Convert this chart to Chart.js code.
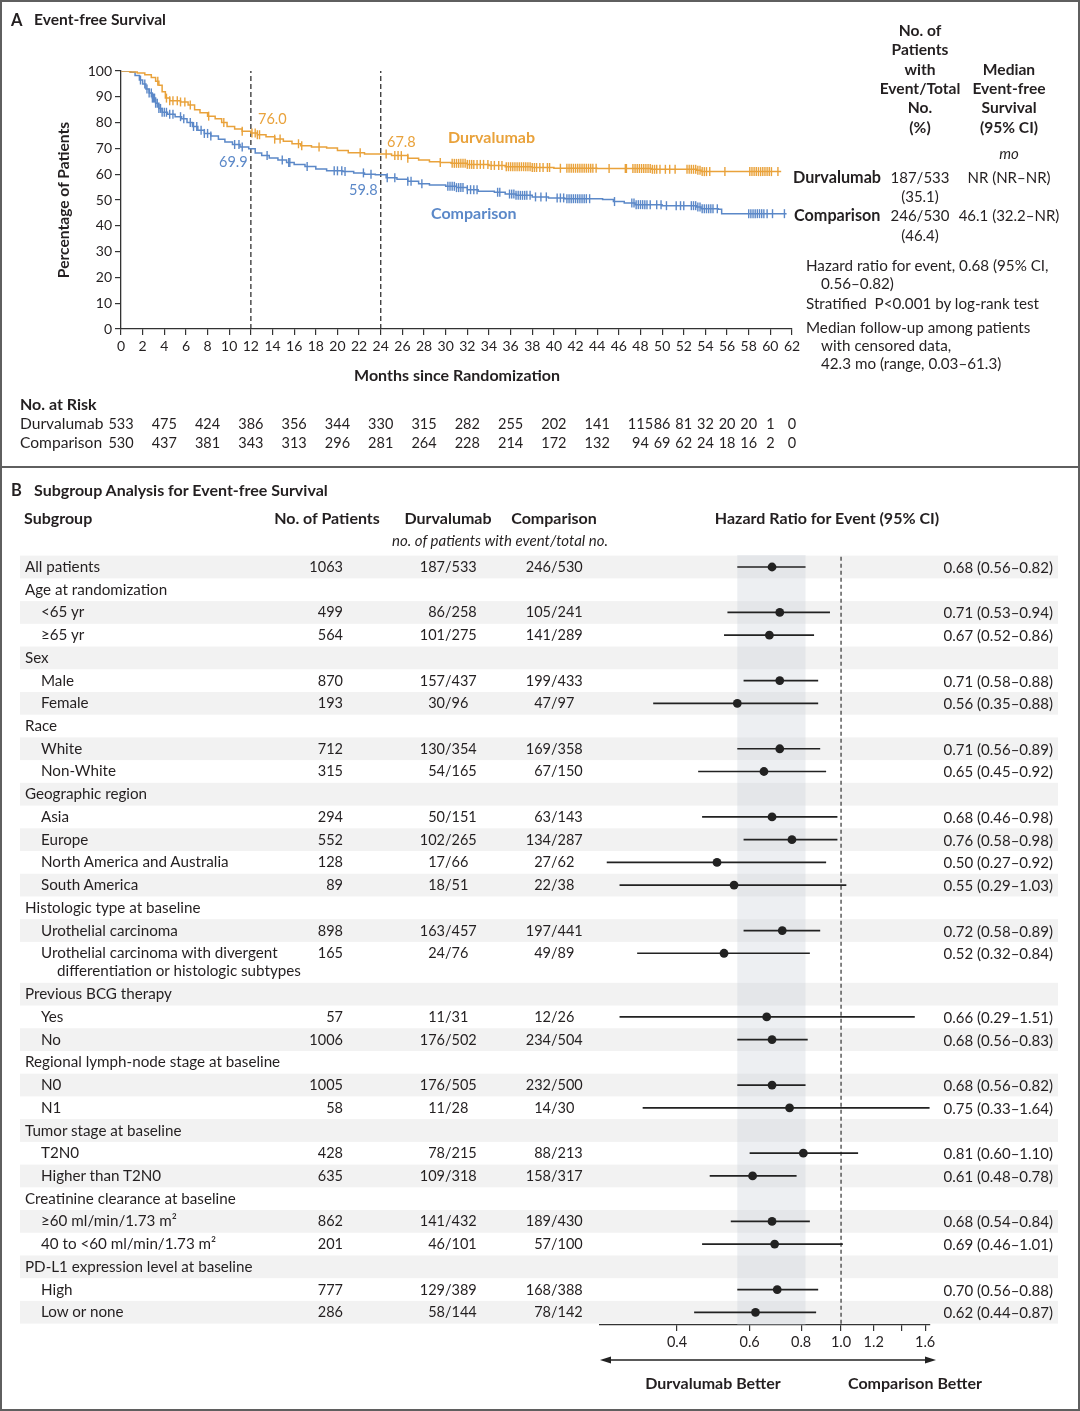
<!DOCTYPE html>
<html><head><meta charset="utf-8">
<script src="https://cdn.jsdelivr.net/npm/chart.js@4.4.1/dist/chart.umd.min.js"></script>
<style>
html,body{margin:0;padding:0;background:#fff;}
body{width:1080px;height:1411px;position:relative;overflow:hidden;font-family:Lato,'Noto Sans',sans-serif;color:#231f20;}
.t{position:absolute;white-space:pre;line-height:1;}
#frame{position:absolute;left:0;top:0;width:1080px;height:1411px;box-sizing:border-box;border:2px solid #5f5f5f;pointer-events:none;}
#sep{position:absolute;left:0;top:466px;width:1080px;height:2px;background:#5f5f5f;}
canvas{position:absolute;}
</style></head><body>
<canvas id="km" width="830" height="330" style="left:0;top:40px;width:830px;height:330px;"></canvas>
<canvas id="fp" width="1080" height="860" style="left:0;top:540px;width:1080px;height:860px;"></canvas>
<div id="frame"></div><div id="sep"></div>
<div id="texts"></div>
<script>
// ---------------- DATA: Panel A (Kaplan-Meier) ----------------
const durvTimes = [0,0.8,1.5,2.2,2.8,3.2,3.5,3.8,4.1,4.5,5.5,6.2,6.8,7.3,8.0,8.7,9.3,9.8,10.5,11.2,12.0,12.6,13.4,14.2,15.0,15.8,16.6,17.6,19.0,20.0,21.0,22.5,25.0,26.5,27.5,28.5,29.5,30.5,32.0,34.0,35.5,38.0,40.0,44.0,49.0,53.2,53.6,61.0];
const durvSurv  = [100,99.6,99.2,98.5,97.5,96.0,94.5,92.0,89.5,88.5,88.0,86.8,85.0,83.8,82.5,81.5,80.0,78.5,77.5,76.6,76.0,75.3,74.5,73.6,72.8,71.8,71.0,70.5,70.2,69.2,68.3,67.8,67.2,66.2,65.5,64.8,64.5,64.2,63.8,63.4,62.9,62.6,62.3,62.2,61.9,61.5,61.0,61.0];
const compTimes = [0,0.9,1.3,1.7,2.0,2.3,2.6,2.9,3.2,3.5,3.8,4.3,5.0,5.6,6.1,6.6,7.1,7.7,8.3,9.0,9.6,10.3,11.0,11.8,12.4,13.0,13.7,14.5,15.3,16.0,17.0,18.0,19.0,20.5,21.5,22.5,23.5,24.5,25.5,26.5,27.5,28.5,30.0,31.0,32.0,33.0,34.5,35.5,36.5,38.0,39.5,41.0,44.5,45.5,46.5,47.5,50.0,53.2,53.6,55.2,55.5,61.5];
const compSurv  = [100,99.5,98.3,96.5,95.0,93.0,91.5,89.5,87.5,85.5,84.0,83.2,82.3,81.5,80.0,78.5,77.0,75.8,74.8,73.5,72.5,71.5,70.5,69.9,68.2,67.2,66.3,65.5,64.5,63.8,63.0,62.0,61.3,61.0,60.5,60.0,59.8,58.6,58.0,57.3,56.3,55.8,55.3,54.8,54.0,53.4,53.0,52.3,51.8,51.2,50.8,50.5,50.2,49.4,48.8,48.2,47.8,47.3,46.6,46.4,44.7,44.7];
const durvCensor = [3.4,4.2,4.5,4.8,5.2,5.5,5.9,6.4,8.1,9.5,11.2,12.1,12.4,12.6,12.8,14.2,14.7,16.4,16.7,18.3,22.1,24.5,25.3,25.6,25.9,26.5,29.5,
  30.6,30.8,31.0,31.2,31.4,31.6,31.8,32.0,32.2,32.4,32.6,32.9,33.2,33.5,33.9,34.2,34.5,34.9,35.2,
  35.6,35.8,36.0,36.2,36.4,36.6,36.8,37.0,37.2,37.4,37.6,37.8,38.0,38.2,38.4,38.7,39.0,39.4,39.6,40.6,
  41.2,41.4,41.6,41.8,42.0,42.2,42.4,42.6,42.8,43.0,43.2,43.4,43.6,43.9,45.1,46.6,46.7,
  47.3,47.5,47.7,47.9,48.1,48.3,48.5,48.7,48.9,49.1,49.3,49.5,49.8,50.3,50.7,51.2,
  52.3,52.5,52.7,52.9,53.1,53.3,53.5,53.7,53.9,54.1,54.4,55.8,
  58.1,58.3,58.5,58.7,58.9,59.1,59.3,59.5,59.7,59.9,60.1,60.7];
const compCensor = [1.8,2.2,2.4,2.6,2.8,2.9,3.0,3.1,3.2,3.35,3.5,3.65,3.8,4.0,4.2,4.5,4.8,5.5,5.8,6.4,6.7,7.0,7.4,7.7,8.0,8.3,10.5,10.9,11.2,13.5,14.9,15.5,15.6,17.2,19.7,20.0,20.4,20.7,22.4,23.1,24.6,25.3,26.5,26.8,27.8,
  30.2,30.4,30.6,30.8,31.0,31.2,31.4,31.6,32.0,32.3,32.6,32.9,34.8,35.0,
  35.9,36.1,36.3,36.5,36.7,36.9,37.1,37.3,37.5,37.8,38.3,38.8,39.3,40.3,40.6,40.9,
  41.2,41.4,41.6,41.8,42.0,42.2,42.4,42.6,42.8,43.0,43.3,45.6,
  47.2,47.4,47.6,47.8,48.0,48.2,48.4,48.6,48.9,49.5,49.9,50.4,51.3,51.7,52.0,
  52.7,52.9,53.1,53.3,53.5,53.7,53.9,54.1,54.3,54.5,54.7,55.1,
  58.0,58.2,58.4,58.6,58.8,59.0,59.2,59.4,59.7,60.2,61.3];
const landmarkMonths = [12, 24];
const atRiskTimes = [0,4,8,12,16,20,24,28,32,36,40,44,48,50,52,54,56,58,60,62];
const atRiskDurv  = [533,475,424,386,356,344,330,315,282,255,202,141,115,86,81,32,20,20,1,0];
const atRiskComp  = [530,437,381,343,313,296,281,264,228,214,172,132,94,69,62,24,18,16,2,0];

// ---------------- DATA: Panel B (forest plot) ----------------
const subgroupLabels = ["All patients","Age at randomization","<65 yr","≥65 yr","Sex","Male","Female","Race","White","Non-White","Geographic region","Asia","Europe","North America and Australia","South America","Histologic type at baseline","Urothelial carcinoma","Urothelial carcinoma with divergent\ndifferentiation or histologic subtypes","Previous BCG therapy","Yes","No","Regional lymph-node stage at baseline","N0","N1","Tumor stage at baseline","T2N0","Higher than T2N0","Creatinine clearance at baseline","≥60 ml/min/1.73 m²","40 to <60 ml/min/1.73 m²","PD-L1 expression level at baseline","High","Low or none"];
const subgroupLevel = [0,0,1,1,0,1,1,0,1,1,0,1,1,1,1,0,1,1,0,1,1,0,1,1,0,1,1,0,1,1,0,1,1];
const nPatients = [1063,null,499,564,null,870,193,null,712,315,null,294,552,128,89,null,898,165,null,57,1006,null,1005,58,null,428,635,null,862,201,null,777,286];
const durvEvents = ["187/533",null,"86/258","101/275",null,"157/437","30/96",null,"130/354","54/165",null,"50/151","102/265","17/66","18/51",null,"163/457","24/76",null,"11/31","176/502",null,"176/505","11/28",null,"78/215","109/318",null,"141/432","46/101",null,"129/389","58/144"];
const compEvents = ["246/530",null,"105/241","141/289",null,"199/433","47/97",null,"169/358","67/150",null,"63/143","134/287","27/62","22/38",null,"197/441","49/89",null,"12/26","234/504",null,"232/500","14/30",null,"88/213","158/317",null,"189/430","57/100",null,"168/388","78/142"];
const hr   = [0.68,null,0.71,0.67,null,0.71,0.56,null,0.71,0.65,null,0.68,0.76,0.50,0.55,null,0.72,0.52,null,0.66,0.68,null,0.68,0.75,null,0.81,0.61,null,0.68,0.69,null,0.70,0.62];
const hrLo = [0.56,null,0.53,0.52,null,0.58,0.35,null,0.56,0.45,null,0.46,0.58,0.27,0.29,null,0.58,0.32,null,0.29,0.56,null,0.56,0.33,null,0.60,0.48,null,0.54,0.46,null,0.56,0.44];
const hrHi = [0.82,null,0.94,0.86,null,0.88,0.88,null,0.89,0.92,null,0.98,0.98,0.92,1.03,null,0.89,0.84,null,1.51,0.83,null,0.82,1.64,null,1.10,0.78,null,0.84,1.01,null,0.88,0.87];
const hrTicks = [0.4,0.6,0.8,1.0,1.2,1.4,1.6];
const hrTickLabels = ["0.4","0.6","0.8","1.0","1.2","","1.6"];

// ---------------- rendering ----------------
const FONT = "Lato, 'Noto Sans', sans-serif";
const INK = '#231f20';
const ORANGE = '#E9A23B';
const BLUE = '#5B88C8';
Chart.defaults.font.family = FONT;
Chart.defaults.color = INK;

const textLayer = document.getElementById('texts');
function T(s, x, y, o = {}) {
  const d = document.createElement('div');
  d.className = 't';
  d.textContent = s;
  d.style.left = x + 'px';
  d.style.top = y + 'px';
  d.style.fontSize = (o.size || 14.5) + 'px';
  if (o.b) d.style.fontWeight = '700';
  if (o.i) d.style.fontStyle = 'italic';
  d.style.color = o.color || INK;
  const ax = o.align === 'c' ? '-50%' : (o.align === 'r' ? '-100%' : '0');
  d.style.transform = o.rot ? `translate(-50%,-50%) rotate(${o.rot}deg)` : `translate(${ax},-50%)`;
  textLayer.appendChild(d);
  return d;
}
function survAt(times, surv, t) {
  let v = surv[0];
  for (let i = 0; i < times.length; i++) if (times[i] <= t) v = surv[i];
  return v;
}

// ---- KM chart ----
const kmCanvas = document.getElementById('km');
const kmOffsetX = 0;
const censorDs = (times, steps, surv, color) => ({
  type: 'scatter',
  data: times.map(t => ({ x: t, y: survAt(steps, surv, t) })),
  showLine: false, pointStyle: 'line', pointRotation: 90, pointRadius: 4.5,
  pointBorderColor: color, pointBorderWidth: 1.4, pointBackgroundColor: color
});
const kmChart = new Chart(kmCanvas, {
  type: 'scatter',
  data: { datasets: [
    { type: 'line', data: durvTimes.map((t, i) => ({ x: t, y: durvSurv[i] })), stepped: true, borderColor: ORANGE, borderWidth: 1.5, pointRadius: 0, fill: false },
    { type: 'line', data: compTimes.map((t, i) => ({ x: t, y: compSurv[i] })), stepped: true, borderColor: BLUE, borderWidth: 1.5, pointRadius: 0, fill: false },
    censorDs(durvCensor, durvTimes, durvSurv, ORANGE),
    censorDs(compCensor, compTimes, compSurv, BLUE),
    ...landmarkMonths.map(m => ({ type: 'line', data: [{ x: m, y: 0 }, { x: m, y: 100 }], borderColor: '#333', borderWidth: 1.3, borderDash: [5, 3], pointRadius: 0 }))
  ]},
  options: {
    responsive: false, animation: false,
    layout: { padding: { left: 81, right: 38, top: 31, bottom: 11 } },
    plugins: { legend: { display: false }, tooltip: { enabled: false } },
    scales: {
      x: { type: 'linear', min: 0, max: 62,
        ticks: { stepSize: 2, autoSkip: false, maxRotation: 0, font: { size: 14 }, color: INK, padding: 3 },
        grid: { drawOnChartArea: false, tickLength: 6, color: '#333', lineWidth: 1.2 },
        border: { color: '#333', width: 1.3 },
        afterFit(s) { s.height = 30; } },
      y: { min: 0, max: 100,
        ticks: { stepSize: 10, font: { size: 14 }, color: INK, padding: 3 },
        grid: { drawOnChartArea: false, tickLength: 6, color: '#333', lineWidth: 1.2 },
        border: { color: '#333', width: 1.3 },
        afterFit(s) { s.width = 40; } }
    }
  }
});

// ---- Forest chart ----
const rowLines = subgroupLabels.map(s => s.split('\n').length);
const rowPos = [];
subgroupLabels.forEach((s, i) => { rowPos.push(i === 0 ? 0 : rowPos[i - 1] + 1 + 0.8 * (rowLines[i - 1] - 1)); });
const ciData = [];
hr.forEach((v, i) => { if (v != null) { ciData.push({ x: hrLo[i], y: rowPos[i] }, { x: hrHi[i], y: rowPos[i] }, { x: v, y: null }); } });
const hrPts = [];
hr.forEach((v, i) => { if (v != null) hrPts.push({ x: v, y: rowPos[i] }); });
const Y_MIN = -0.528, Y_MAX = 33.36;

const forestDecor = {
  id: 'forestDecor',
  beforeDatasetsDraw(chart) {
    const { ctx, chartArea: a, scales: { x, y } } = chart;
    ctx.save();
    ctx.fillStyle = '#f2f2f2';
    rowPos.forEach((p, i) => {
      if (i % 2 === 0) {
        const y1 = y.getPixelForValue(p - 0.5), y2 = y.getPixelForValue(p + 0.5 + 0.8 * (rowLines[i] - 1));
        ctx.fillRect(20, y1, 1038, y2 - y1);
      }
    });
    const bx1 = x.getPixelForValue(hrLo[0]), bx2 = x.getPixelForValue(hrHi[0]);
    ctx.fillStyle = 'rgba(200,206,216,0.33)';
    ctx.fillRect(bx1, a.top, bx2 - bx1, a.bottom - a.top);
    ctx.restore();
  },
  afterDraw(chart) {
    const { ctx, chartArea: a } = chart;
    const yy = a.bottom + 35;
    const x1 = a.left, x2 = a.right + 6;
    ctx.save();
    ctx.strokeStyle = '#222'; ctx.fillStyle = '#222'; ctx.lineWidth = 1.3;
    ctx.beginPath(); ctx.moveTo(x1 + 6, yy); ctx.lineTo(x2 - 6, yy); ctx.stroke();
    ctx.beginPath(); ctx.moveTo(x1, yy); ctx.lineTo(x1 + 11, yy - 3.5); ctx.lineTo(x1 + 11, yy + 3.5); ctx.closePath(); ctx.fill();
    ctx.beginPath(); ctx.moveTo(x2, yy); ctx.lineTo(x2 - 11, yy - 3.5); ctx.lineTo(x2 - 11, yy + 3.5); ctx.closePath(); ctx.fill();
    ctx.restore();
  }
};
const fpChart = new Chart(document.getElementById('fp'), {
  type: 'scatter',
  data: { datasets: [
    { type: 'line', data: ciData, showLine: true, spanGaps: false, borderColor: '#222', borderWidth: 1.7, pointRadius: 0 },
    { type: 'scatter', data: hrPts, pointRadius: 4.4, pointBackgroundColor: '#222', pointBorderColor: '#222', pointBorderWidth: 0 },
    { type: 'line', data: [{ x: 1, y: -0.45 }, { x: 1, y: Y_MAX }], borderColor: '#333', borderWidth: 1.2, borderDash: [4, 3], pointRadius: 0 }
  ]},
  options: {
    responsive: false, animation: false,
    layout: { padding: { left: 600, right: 150, top: 15, bottom: 45 } },
    plugins: { legend: { display: false }, tooltip: { enabled: false } },
    scales: {
      x: { type: 'logarithmic', min: 0.26, max: 1.644,
        afterBuildTicks(s) { s.ticks = hrTicks.map(v => ({ value: v })); },
        ticks: { autoSkip: false, maxRotation: 0, font: { size: 14.5 }, color: INK, padding: 3,
          callback: (v, i) => hrTickLabels[i] },
        grid: { drawOnChartArea: false, tickLength: 6, color: '#333', lineWidth: 1.2 },
        border: { color: '#333', width: 1.3 },
        afterFit(s) { s.height = 30; } },
      y: { type: 'linear', display: false, reverse: true, min: Y_MIN, max: Y_MAX }
    }
  },
  plugins: [forestDecor]
});

// ---------------- text: Panel A ----------------
T('A', 11, 20, { b: 1, size: 16.5 });
T('Event-free Survival', 34, 20, { b: 1, size: 15.6 });
T('Percentage of Patients', 64, 200, { b: 1, size: 15.6, rot: -90 });
T('Months since Randomization', 457, 375, { b: 1, size: 16, align: 'c' });
T('76.0', 258, 119, { color: ORANGE, size: 14.5 });
T('67.8', 387, 142, { color: ORANGE, size: 14.5 });
T('69.9', 219, 162, { color: BLUE, size: 14.5 });
T('59.8', 349, 190, { color: BLUE, size: 14.5 });
T('Durvalumab', 448, 137, { b: 1, color: ORANGE, size: 16 });
T('Comparison', 431, 213, { b: 1, color: BLUE, size: 16 });

[['No. of', 31], ['Patients', 50], ['with', 70], ['Event/Total', 89], ['No.', 108], ['(%)', 128]].forEach(([s, y]) => T(s, 920, y, { b: 1, size: 15.6, align: 'c' }));
[['Median', 70], ['Event-free', 89], ['Survival', 108], ['(95% CI)', 128]].forEach(([s, y]) => T(s, 1009, y, { b: 1, size: 15.6, align: 'c' }));
T('mo', 1009, 153, { i: 1, size: 15, align: 'c' });
T('Durvalumab', 793, 177, { b: 1, size: 16.2 });
T('187/533', 920, 177, { align: 'c', size: 15 });
T('(35.1)', 920, 196, { align: 'c', size: 15 });
T('NR (NR–NR)', 1009, 177, { align: 'c', size: 15 });
T('Comparison', 794, 215, { b: 1, size: 16.2 });
T('246/530', 920, 215, { align: 'c', size: 15 });
T('(46.4)', 920, 235, { align: 'c', size: 15 });
T('46.1 (32.2–NR)', 1009, 215, { align: 'c', size: 15 });
T('Hazard ratio for event, 0.68 (95% CI,', 806, 266, { size: 15.2 });
T('0.56–0.82)', 821, 284, { size: 15.2 });
T('Stratified  P<0.001 by log-rank test', 806, 304, { size: 15.2 });
T('Median follow-up among patients', 806, 328, { size: 15.2 });
T('with censored data,', 821, 346, { size: 15.2 });
T('42.3 mo (range, 0.03–61.3)', 821, 364, { size: 15.2 });

T('No. at Risk', 20, 404, { b: 1, size: 16 });
T('Durvalumab', 20, 424, { size: 15.6 });
T('Comparison', 20, 443, { size: 15.6 });
atRiskTimes.forEach((t, i) => {
  const px = kmChart.scales.x.getPixelForValue(t) + kmOffsetX;
  T(String(atRiskDurv[i]), px, 424, { align: 'c', size: 14.5 });
  T(String(atRiskComp[i]), px, 443, { align: 'c', size: 14.5 });
});

// ---------------- text: Panel B ----------------
T('B', 11, 490, { b: 1, size: 16.5 });
T('Subgroup Analysis for Event-free Survival', 34, 490, { b: 1, size: 16 });
T('Subgroup', 24, 518, { b: 1, size: 16 });
T('No. of Patients', 327, 518, { b: 1, size: 16, align: 'c' });
T('Durvalumab', 448, 518, { b: 1, size: 16, align: 'c' });
T('Comparison', 554, 518, { b: 1, size: 16, align: 'c' });
T('Hazard Ratio for Event (95% CI)', 827, 518, { b: 1, size: 16, align: 'c' });
T('no. of patients with event/total no.', 500, 540, { i: 1, size: 15, align: 'c' });

const fpTop = 540;
subgroupLabels.forEach((lab, i) => {
  const yc = fpChart.scales.y.getPixelForValue(rowPos[i]) + fpTop;
  const lines = lab.split('\n');
  const lx = subgroupLevel[i] === 0 ? 25 : 41;
  T(lines[0], lx, yc, { size: 15.2 });
  for (let k = 1; k < lines.length; k++) T(lines[k], lx + 16, yc + 18 * k, { size: 15.2 });
  if (nPatients[i] != null) T(String(nPatients[i]), 343, yc, { align: 'r' });
  if (durvEvents[i] != null) { const [a, b] = durvEvents[i].split('/'); T(a, 445, yc, { align: 'r' }); T('/' + b, 445, yc); }
  if (compEvents[i] != null) { const [a, b] = compEvents[i].split('/'); T(a, 551, yc, { align: 'r' }); T('/' + b, 551, yc); }
  if (hr[i] != null) T(`${hr[i].toFixed(2)} (${hrLo[i].toFixed(2)}–${hrHi[i].toFixed(2)})`, 1053, yc, { align: 'r', size: 15 });
});
T('Durvalumab Better', 713, 1383, { b: 1, size: 16, align: 'c' });
T('Comparison Better', 848, 1383, { b: 1, size: 16 });
</script>
</body></html>
